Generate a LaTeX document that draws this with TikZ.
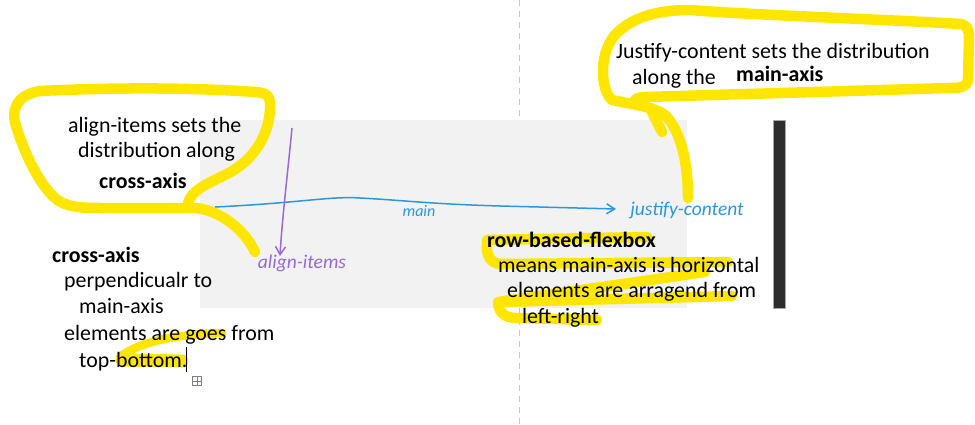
\documentclass[tikz,border=0pt]{standalone}
\usepackage{fontspec}
\setmainfont{Carlito}
\usetikzlibrary{arrows.meta}
\definecolor{hl}{RGB}{255,230,0}
\definecolor{boxgray}{RGB}{242,242,242}
\definecolor{dashgray}{RGB}{200,200,200}
\definecolor{inkblue}{RGB}{45,150,225}
\definecolor{inkpurple}{RGB}{150,105,220}
\definecolor{barblack}{RGB}{45,45,45}
\tikzset{
  txt/.style={anchor=base west, inner sep=0pt, font=\fontsize{21.9}{26}\selectfont},
  btxt/.style={txt, font=\fontsize{21.9}{26}\selectfont\bfseries},
  marker/.style={draw=hl, line width=10.5pt, line cap=round, line join=round},
  thinmarker/.style={draw=hl, line width=8.5pt, line cap=round, line join=round},
  hand/.style={inner sep=0pt, font=\fontsize{19.5}{22}\selectfont\itshape},
  inkarrow/.style={line width=1.5pt, -{Straight Barb[length=8pt,width=10pt]}},
}
\begin{document}
\begin{tikzpicture}[x=1pt,y=-1pt]
\useasboundingbox (0,0) rectangle (975,425);
% dashed vertical divider
\coordinate (dtop) at (519,0);
\coordinate (dbot) at (519,425);
\draw[dashgray, line width=1pt, dash pattern=on 6pt off 5pt] (dtop) -- (dbot);
% gray box
\node[fill=boxgray, inner sep=0pt, minimum width=487pt, minimum height=188pt, anchor=north west] (box) at (200,120) {};
% black bar
\node[fill=barblack, draw=gray!70, line width=0.4pt, inner sep=0pt, minimum width=12pt, minimum height=188pt, anchor=north west] (bar) at (773,120) {};

% ---- yellow highlighter strokes ----
% loop around align-items text
\draw[marker] (188,203) .. controls (192,190) and (205,185) .. (225,175)
  .. controls (250,163) and (268,140) .. (270,110)
  .. controls (271,96) and (268,93) .. (255,92)
  .. controls (200,88) and (120,87) .. (40,91)
  .. controls (15,95) and (11,112) .. (16,126)
  .. controls (25,155) and (40,185) .. (55,198)
  .. controls (65,207) and (80,208) .. (100,208)
  -- (195,208) .. controls (220,210) and (245,230) .. (255,252);
% loop around justify-content text
\draw[marker] (688,198) .. controls (688,160) and (680,130) .. (665,115)
  .. controls (655,107) and (630,104) .. (612,100)
  .. controls (600,90) and (598,50) .. (618,32)
  .. controls (635,16) and (660,10) .. (690,10)
  .. controls (750,15) and (900,20) .. (960,24)
  .. controls (968,25) and (969,30) .. (969,40)
  -- (968,78) .. controls (968,87) and (962,88) .. (950,88)
  -- (645,97) .. controls (630,98) and (632,104) .. (645,106);
\draw[marker] (650,108) -- (662,132);
% row-based-flexbox highlights
\draw[marker] (487,240) -- (647,237);
\draw[marker] (487,243) .. controls (486,255) and (490,263) .. (500,264) -- (728,262);
\draw[marker] (705,272) -- (630,283) -- (498,302) -- (732,296);
\draw[marker] (498,304) .. controls (500,314) and (505,317) .. (515,318) -- (597,320);
% goes / bottom highlights
\draw[thinmarker] (120,357) .. controls (140,341) and (180,334) .. (222,333);
\draw[draw=hl, line width=13pt, line cap=round] (122,360) -- (182,361);

% ---- texts ----
\node[txt] (a1) at (68,133) {align-items sets the};
\node[txt] (a2) at (78,158) {distribution along};
\node[btxt] (a3) at (99,189) {cross-axis};

\node[txt] (j1) at (616,59) {Justify-content sets the distribution};
\node[txt] (j2) at (632,85) {along the};
\node[btxt] (j3) at (736,82) {main-axis};

\node[btxt] (c1) at (52,262) {cross-axis};
\node[txt] (c2) at (64,287) {perpendicualr to};
\node[txt] (c3) at (79,313) {main-axis};
\node[txt] (c4) at (64,340) {elements are goes from};
\node[txt] (c5) at (79,367) {top-bottom.};

\node[btxt] (r1) at (487,247) {row-based-flexbox};
\node[txt] (r2) at (498,272) {means main-axis is horizontal};
\node[txt] (r3) at (507,297) {elements are arragend from};
\node[txt] (r4) at (522,323) {left-right};

% text cursor and move handle
\coordinate (curT) at (186,347);
\coordinate (curB) at (186,372);
\draw[black, line width=0.8pt] (curT) -- (curB);
\node[draw=gray, line width=0.6pt, inner sep=0pt, minimum size=9pt] (handle) at (197,381) {};
\draw[gray, line width=0.6pt] (handle.north) -- (handle.south) (handle.west) -- (handle.east);

% ---- ink: main axis (blue) ----
\coordinate (mS) at (215,207);
\coordinate (mE) at (616,209);
\draw[inkblue, inkarrow] (mS) .. controls (300,203) and (330,196) .. (360,198)
  .. controls (400,200) and (430,204) .. (500,206) -- (mE);
\node[hand, inkblue, font=\fontsize{16}{18}\selectfont\itshape] (mainlbl) at (419,211) {main};
\node[hand, inkblue] (jclbl) at (687,210) {justify-content};

% ---- ink: cross axis (purple) ----
\coordinate (cS) at (292,128);
\coordinate (cE) at (280,256);
\draw[inkpurple, inkarrow] (cS) .. controls (288,170) and (282,220) .. (cE);
\node[hand, inkpurple] (ailbl) at (302,263) {align-items};
\end{tikzpicture}
\end{document}
